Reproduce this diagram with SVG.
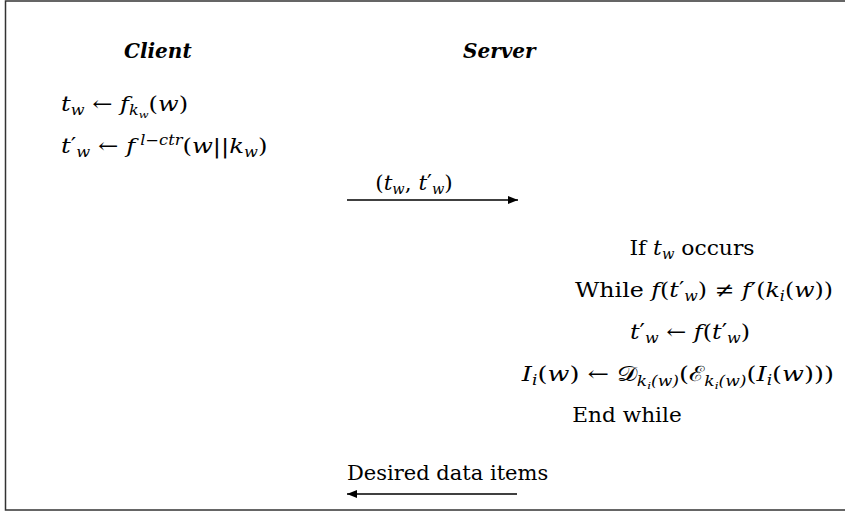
<svg xmlns="http://www.w3.org/2000/svg" width="845" height="512" viewBox="0 0 845 512">
<defs>
<style>
text{font-family:'DejaVu Serif',serif;font-size:21px;fill:#000}
.i{font-style:italic}
.h{font-style:italic;font-weight:bold;font-size:20px}
.s{font-size:14px;font-style:italic}
.ss{font-size:10px;font-style:italic}
.ln{stroke:#000;stroke-width:1.3;fill:none}
</style>
<marker id="ah" viewBox="0 0 10 8" refX="10" refY="4" markerWidth="10" markerHeight="8" markerUnits="userSpaceOnUse" orient="auto"><path d="M0,0 L10,4 L0,8 Z" fill="#000"/></marker>
</defs>
<rect x="5.5" y="1" width="850" height="509" fill="#fff" stroke="#333" stroke-width="1.5"/>
<g id="client"><text x="124" y="58" class="h">Client</text></g>
<g id="server"><text x="463" y="58" class="h">Server</text></g>
<g id="client-steps">
<text transform="translate(61,111) scale(1.15,1)"><tspan class="i">t</tspan><tspan class="s" dy="4">w</tspan><tspan dy="-4"> ← </tspan><tspan class="i">f</tspan><tspan class="s" dy="4">k</tspan><tspan class="ss" dy="3">w</tspan><tspan dy="-7">(</tspan><tspan class="i">w</tspan><tspan>)</tspan></text>
<text transform="translate(61,153) scale(1.16,1)"><tspan class="i">t</tspan><tspan dy="-1">′</tspan><tspan class="s" dy="5">w</tspan><tspan dy="-4"> ← </tspan><tspan class="i">f</tspan><tspan class="s" dy="-8"> l−ctr</tspan><tspan dy="8">(</tspan><tspan class="i">w</tspan><tspan>||</tspan><tspan class="i">k</tspan><tspan class="s" dy="4">w</tspan><tspan dy="-4">)</tspan></text>
</g>
<g id="server-steps">
<text transform="translate(692,255) scale(1.04,1)" text-anchor="middle">If <tspan class="i">t</tspan><tspan class="s" dy="4">w</tspan><tspan dy="-4"> occurs</tspan></text>
<text transform="translate(833,297) scale(1.13,1)" text-anchor="end">While <tspan class="i">f</tspan>(<tspan class="i">t</tspan><tspan dy="-1">′</tspan><tspan class="s" dy="5">w</tspan><tspan dy="-4">) ≠ </tspan><tspan class="i">f</tspan>′(<tspan class="i">k</tspan><tspan class="s" dy="4">i</tspan><tspan dy="-4">(</tspan><tspan class="i">w</tspan>))</text>
<text transform="translate(690,339) scale(1.14,1)" text-anchor="middle"><tspan class="i">t</tspan><tspan dy="-1">′</tspan><tspan class="s" dy="5">w</tspan><tspan dy="-4"> ← </tspan><tspan class="i">f</tspan>(<tspan class="i">t</tspan><tspan dy="-1">′</tspan><tspan class="s" dy="5">w</tspan><tspan dy="-4">)</tspan></text>
<text transform="translate(834,381) scale(1.22,1)" text-anchor="end"><tspan class="i">I</tspan><tspan class="s" dy="4">i</tspan><tspan dy="-4">(</tspan><tspan class="i">w</tspan>) ← <tspan>𝒟</tspan><tspan class="s" dy="5">k</tspan><tspan class="ss" dy="3">i</tspan><tspan class="s" dy="-3">(w)</tspan><tspan dy="-5">(</tspan><tspan>ℰ</tspan><tspan class="s" dy="5">k</tspan><tspan class="ss" dy="3">i</tspan><tspan class="s" dy="-3">(w)</tspan><tspan dy="-5">(</tspan><tspan class="i">I</tspan><tspan class="s" dy="4">i</tspan><tspan dy="-4">(</tspan><tspan class="i">w</tspan>)))</text>
<text transform="translate(627,422) scale(1.03,1)" text-anchor="middle">End while</text>
</g>
<g id="connectors">
<line class="ln" x1="347" y1="200" x2="518" y2="200" marker-end="url(#ah)"/>
<text transform="translate(414,190) scale(1.03,1)" text-anchor="middle">(<tspan class="i">t</tspan><tspan class="s" dy="4">w</tspan><tspan dy="-4">, </tspan><tspan class="i">t</tspan><tspan dy="-1">′</tspan><tspan class="s" dy="5">w</tspan><tspan dy="-4">)</tspan></text>
<line class="ln" x1="517" y1="494" x2="347" y2="494" marker-end="url(#ah)"/>
<text x="347" y="480">Desired data items</text>
</g>
</svg>
